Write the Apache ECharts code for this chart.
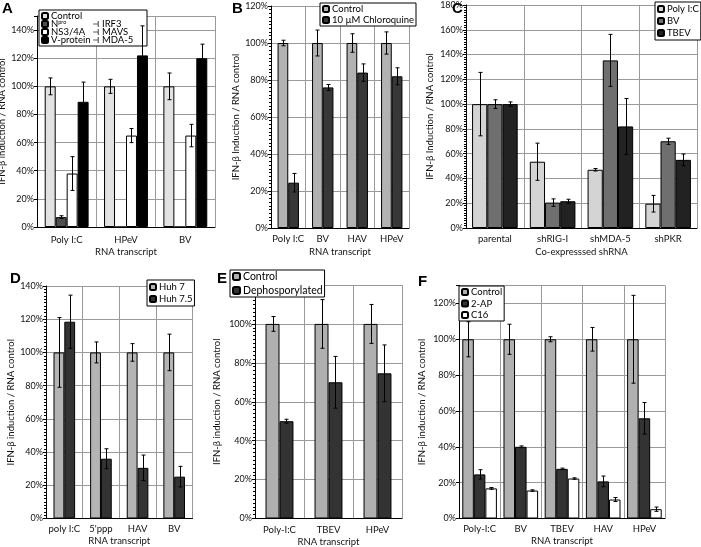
<!DOCTYPE html>
<html lang="en">
<head>
<meta charset="UTF-8">
<title>IFN-beta induction</title>
<script src="https://cdn.jsdelivr.net/npm/echarts@6/dist/echarts.min.js"></script>
<style>
  body { margin: 0; background: #fff; }
  .panel { position: absolute; left: 0; top: 0; width: 701px; height: 547px; }
</style>
</head>
<body>
<div class="panel" id="pA"></div>
<div class="panel" id="pB"></div>
<div class="panel" id="pC"></div>
<div class="panel" id="pD"></div>
<div class="panel" id="pE"></div>
<div class="panel" id="pF"></div>
<script>
  const FONT = 'Lato'

  // A
  const catsA = ['Poly I:C', 'HPeV', 'BV']
  const ctrlA = [100, 100, 100]
  const ctrlErrA = [6, 5, 9.5]
  const nproA = [7, 0, 0]
  const nproErrA = [1, 0, 0]
  const ns3A = [38, 65, 65]
  const ns3ErrA = [12, 5, 8]
  const vA = [89, 122, 120]
  const vErrA = [14, 21, 10]
  const targetsA = ['IRF3', 'MAVS', 'MDA-5']

  // B
  const catsB = ['Poly I:C', 'BV', 'HAV', 'HPeV']
  const ctrlB = [100, 100, 100, 100]
  const ctrlErrB = [1.5, 7, 5, 6]
  const chloroB = [24.5, 76, 84, 82]
  const chloroErrB = [5, 1.6, 4.7, 4.6]

  // C
  const catsC = ['parental', 'shRIG-I', 'shMDA-5', 'shPKR']
  const polyC = [100, 53.5, 47, 19.6]
  const polyErrC = [25.6, 15, 1, 6.7]
  const bvC = [100, 20.5, 135.3, 70]
  const bvErrC = [3.5, 3, 21, 2.5]
  const tbevC = [100, 21.6, 82, 55]
  const tbevErrC = [1.8, 1.6, 22.5, 4.7]

  // D
  const catsD = ['poly I:C', "5'ppp", 'HAV', 'BV']
  const huh7D = [100, 100, 100, 100]
  const huh7ErrD = [21, 6.3, 5.3, 11]
  const huh75D = [118.5, 36, 30.5, 25.2]
  const huh75ErrD = [16, 6, 7.7, 6.2]

  // E
  const catsE = ['Poly-I:C', 'TBEV', 'HPeV']
  const ctrlE = [100, 100, 100]
  const ctrlErrE = [3.8, 12.5, 10]
  const dephE = [50, 70, 74.6]
  const dephErrE = [1, 13.3, 14.6]

  // F
  const catsF = ['Poly-I:C', 'BV', 'TBEV', 'HAV', 'HPeV']
  const ctrlF = [100, 100, 100, 100, 100]
  const ctrlErrF = [9.8, 8.4, 1.4, 6.6, 24.5]
  const apF = [24.6, 40, 27.7, 20.7, 55.9]
  const apErrF = [2.6, 0.5, 0.4, 3, 8.8]
  const c16F = [16.8, 15.6, 22.3, 10.6, 5.2]
  const c16ErrF = [0.5, 0.4, 0.4, 1.1, 1.2]

  const TARGET_ICON = 'path://M0,3.3H6V4.7H0Z M6,0H7.6V8H6Z'

  function makePanel(cfg) {
    const chart = echarts.init(document.getElementById(cfg.id))
    const n = cfg.series.length
    const series = []
    cfg.series.forEach(s => {
      series.push({
        type: 'bar', name: s.name, data: s.data, silent: true,
        barGap: '0%', barCategoryGap: (cfg.gap * 100) + '%',
        itemStyle: { color: s.color, borderColor: '#000', borderWidth: 1 }
      })
    })
    cfg.series.forEach((s, i) => {
      series.push({
        type: 'custom', name: s.name + '-err', silent: true, z: 5,
        data: s.data.map((v, k) => [k, v, s.err[k]]),
        renderItem: (params, api) => {
          const k = api.value(0), v = api.value(1), e = api.value(2)
          if (!e) return null
          const band = api.size([1, 0])[0]
          const bw = band * (1 - cfg.gap) / n
          const cx = Math.round(api.coord([k, 0])[0] + (i - (n - 1) / 2) * bw) + 0.5
          const yt = api.coord([k, v + e])[1]
          const yb = api.coord([k, v - e])[1]
          const st = { stroke: '#000', lineWidth: 1 }
          return {
            type: 'group', children: [
              { type: 'line', shape: { x1: cx, y1: yt, x2: cx, y2: yb }, style: st },
              { type: 'line', shape: { x1: cx - 2, y1: yt, x2: cx + 2, y2: yt }, style: st },
              { type: 'line', shape: { x1: cx - 2, y1: yb, x2: cx + 2, y2: yb }, style: st }
            ]
          }
        }
      })
    })
    ;(cfg.extraSeries || []).forEach(s => series.push(s))

    const lg = cfg.legend
    const legend = {
      left: lg.left, top: lg.top, orient: 'vertical',
      padding: lg.padding || [2, 3], itemGap: lg.itemGap, itemWidth: lg.icon, itemHeight: lg.icon,
      backgroundColor: '#fff', borderColor: '#000', borderWidth: 1, borderRadius: 0,
      selectedMode: false, data: lg.data || cfg.series.map(s => s.name),
      textStyle: { fontFamily: FONT, fontSize: lg.fontSize, lineHeight: lg.lineHeight, color: '#000',
        padding: [0, 0, 0, -2] }
    }
    if (lg.height) legend.height = lg.height
    if (lg.textWidth) legend.textStyle.width = lg.textWidth
    if (lg.formatter) { legend.formatter = lg.formatter; legend.textStyle.rich = lg.rich }

    chart.setOption({
      animation: false,
      grid: { left: cfg.box[0], top: cfg.box[1], width: cfg.box[2], height: cfg.box[3], outerBoundsMode: 'none' },
      xAxis: {
        type: 'category', data: cfg.cats,
        name: cfg.xName, nameLocation: 'middle', nameGap: cfg.xNameGap,
        nameTextStyle: { fontFamily: FONT, fontSize: 9.5, color: '#111' },
        axisLine: { lineStyle: { color: '#000' } },
        axisTick: { length: 3, lineStyle: { color: '#000' } },
        axisLabel: { interval: 0, fontFamily: FONT, fontSize: 9.5, color: '#111', margin: cfg.xMargin },
        splitLine: { show: true, interval: 0, lineStyle: { color: '#9a9a9a' } }
      },
      yAxis: {
        type: 'value', min: 0, max: cfg.max, interval: 20,
        name: cfg.yName, nameLocation: 'middle', nameGap: cfg.yNameGap, nameRotate: 90,
        nameTextStyle: { fontFamily: FONT, fontSize: 9.5, color: '#111' },
        axisLine: { show: true, lineStyle: { color: '#000' } },
        axisTick: { show: true, length: 3, lineStyle: { color: '#000' } },
        minorTick: { show: !!cfg.minor, splitNumber: 10, length: 2, lineStyle: { color: '#000' } },
        axisLabel: { fontFamily: FONT, fontSize: 9, color: '#111', margin: 3,
          formatter: v => v > cfg.lastLabel ? '' : v + '%' },
        splitLine: { lineStyle: { color: '#9a9a9a' } }
      },
      legend: legend,
      graphic: [{
        type: 'text', left: cfg.letter[0], top: cfg.letter[1], silent: true,
        style: { text: cfg.letter[2], font: 'bold 15px "Liberation Sans"', fill: '#000' }
      }],
      series: series
    })
  }

  // legend of A: 4 bar entries in column 1, a blank cell, then the 3 targets in column 2
  const spacerA = 'spacer'
  makePanel({
    id: 'pA', cats: catsA, box: [37, 16, 178, 211], max: 150, lastLabel: 140, gap: 0.26,
    xName: 'RNA transcript', xNameGap: 20, xMargin: 8,
    yName: 'IFN-β induction / RNA control', yNameGap: 24,
    letter: [2, 1, 'A'],
    series: [
      { name: 'Control', data: ctrlA, err: ctrlErrA, color: '#e2e2e2' },
      { name: 'Npro', data: nproA, err: nproErrA, color: '#505050' },
      { name: 'NS3/4A', data: ns3A, err: ns3ErrA, color: '#ffffff' },
      { name: 'V-protein', data: vA, err: vErrA, color: '#000000' }
    ],
    extraSeries: targetsA.map(t => ({ type: 'scatter', name: t, data: [], itemStyle: { color: '#333' } }))
      .concat([{ type: 'scatter', name: spacerA, data: [],
        itemStyle: { color: 'rgba(0,0,0,0)', borderWidth: 0 } }]),
    legend: {
      left: 39, top: 10, itemGap: -2, icon: 6, fontSize: 9.5, lineHeight: 9,
      textWidth: 43, padding: [1, 2], height: 38,
      data: ['Control', 'Npro', 'NS3/4A', 'V-protein', { name: spacerA, icon: 'rect' },
        { name: targetsA[0], icon: TARGET_ICON },
        { name: targetsA[1], icon: TARGET_ICON },
        { name: targetsA[2], icon: TARGET_ICON }],
      formatter: name => name === 'Npro' ? '{n|N}{s|pro}' : name === spacerA ? '{t|\u00a0}' : '{t|' + name + '}',
      rich: {
        t: { fontFamily: FONT, fontSize: 9.5, lineHeight: 9 },
        n: { fontFamily: FONT, fontSize: 9.5, lineHeight: 9 },
        s: { fontFamily: FONT, fontSize: 5.5, lineHeight: 9, verticalAlign: 'top' }
      }
    }
  })

  makePanel({
    id: 'pB', cats: catsB, box: [271, 6, 138, 222], max: 120, lastLabel: 120, gap: 0.38, minor: true,
    xName: 'RNA transcript', xNameGap: 19, xMargin: 6,
    yName: 'IFN-β Induction / RNA control', yNameGap: 30,
    letter: [232, 1, 'B'],
    series: [
      { name: 'Control', data: ctrlB, err: ctrlErrB, color: '#b2b2b2' },
      { name: '10 µM Chloroquine', data: chloroB, err: chloroErrB, color: '#383838' }
    ],
    legend: { left: 320, top: 3, itemGap: 1, icon: 6, fontSize: 9.5, lineHeight: 10, padding: [1, 2] }
  })

  makePanel({
    id: 'pC', cats: catsC, box: [466, 5, 231, 223], max: 180, lastLabel: 180, gap: 0.21, minor: true,
    xName: 'Co-expresssed shRNA', xNameGap: 19, xMargin: 6,
    yName: 'IFN-β Induction / RNA control', yNameGap: 31,
    letter: [452, 1, 'C'],
    series: [
      { name: 'Poly I:C', data: polyC, err: polyErrC, color: '#d4d4d4' },
      { name: 'BV', data: bvC, err: bvErrC, color: '#6f6f6f' },
      { name: 'TBEV', data: tbevC, err: tbevErrC, color: '#222222' }
    ],
    legend: { left: 655, top: 2, itemGap: 2, icon: 6, fontSize: 9.5, lineHeight: 10, padding: [2, 2] }
  })

  makePanel({
    id: 'pD', cats: catsD, box: [46, 286, 146.5, 232.5], max: 140, lastLabel: 140, gap: 0.41, minor: true,
    xName: 'RNA transcript', xNameGap: 17, xMargin: 5,
    yName: 'IFN-β induction / RNA control', yNameGap: 28,
    letter: [10, 271, 'D'],
    series: [
      { name: 'Huh 7', data: huh7D, err: huh7ErrD, color: '#b4b4b4' },
      { name: 'Huh 7.5', data: huh75D, err: huh75ErrD, color: '#333333' }
    ],
    legend: { left: 147, top: 280, itemGap: 2, icon: 6, fontSize: 9.5, lineHeight: 10, padding: [2, 2] }
  })

  makePanel({
    id: 'pE', cats: catsE, box: [255, 285, 147, 233.5], max: 120, lastLabel: 100, gap: 0.43, minor: true,
    xName: 'RNA transcript', xNameGap: 18, xMargin: 6,
    yName: 'IFN-β induction / RNA control', yNameGap: 33,
    letter: [217, 271, 'E'],
    series: [
      { name: 'Control', data: ctrlE, err: ctrlErrE, color: '#b0b0b0' },
      { name: 'Dephosporylated', data: dephE, err: dephErrE, color: '#333333' }
    ],
    legend: { left: 230, top: 270, itemGap: 3, icon: 7, fontSize: 10.5, lineHeight: 11, padding: [1, 2] }
  })

  makePanel({
    id: 'pF', cats: catsF, box: [459, 285.5, 206, 233], max: 130, lastLabel: 120, gap: 0.16,
    xName: 'RNA transcript', xNameGap: 17, xMargin: 5,
    yName: 'IFN-β induction / RNA control', yNameGap: 32,
    letter: [418, 274, 'F'],
    series: [
      { name: 'Control', data: ctrlF, err: ctrlErrF, color: '#b0b0b0' },
      { name: '2-AP', data: apF, err: apErrF, color: '#333333' },
      { name: 'C16', data: c16F, err: c16ErrF, color: '#ffffff' }
    ],
    legend: { left: 459, top: 286, itemGap: 1.5, icon: 6, fontSize: 9.5, lineHeight: 10, padding: [1, 2] }
  })
</script>
</body>
</html>
